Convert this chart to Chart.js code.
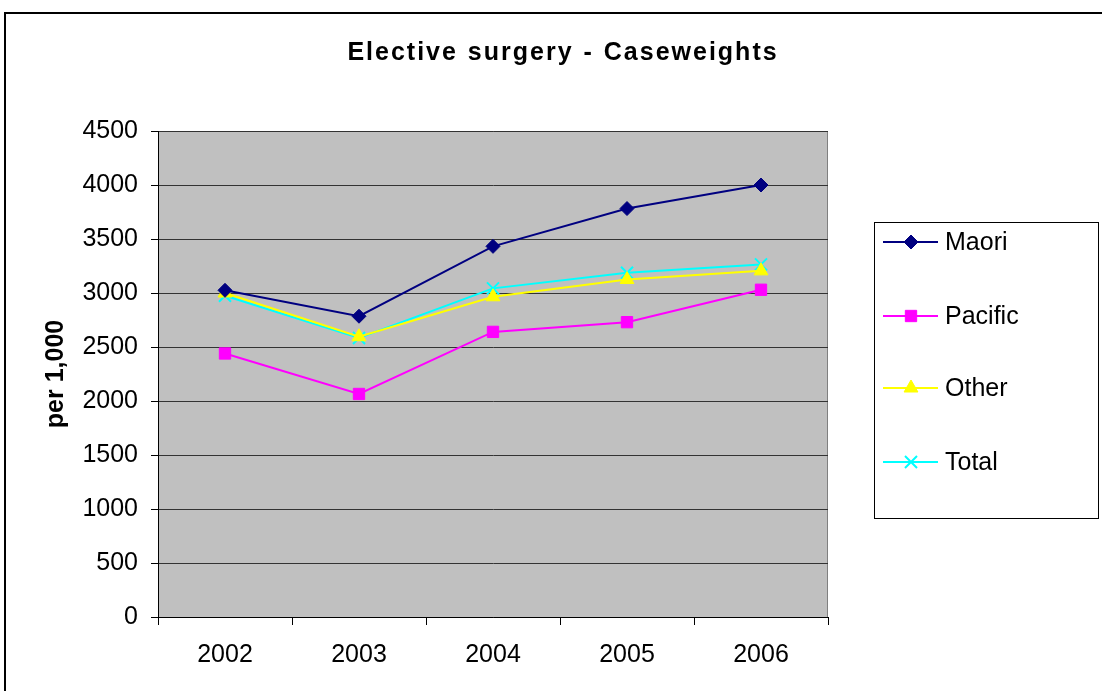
<!DOCTYPE html>
<html>
<head>
<meta charset="utf-8">
<script src="https://cdn.jsdelivr.net/npm/chart.js@4.4.1/dist/chart.umd.min.js"></script>
<style>
  html, body { margin: 0; padding: 0; background: #ffffff; }
  #wrap { position: relative; width: 1102px; height: 691px; }
  canvas { display: block; }
</style>
</head>
<body>
<div id="wrap"><canvas id="chart" width="1102" height="691"></canvas></div>
<script>
// Elective surgery caseweights per 1,000, by ethnic group
const years = ['2002', '2003', '2004', '2005', '2006'];
const maori   = [3025, 2785, 3432, 3782, 4000];
const pacific = [2440, 2065, 2640, 2730, 3030];
const other   = [3000, 2595, 2965, 3125, 3205];
const total   = [2975, 2583, 3043, 3188, 3265];
const yTicks  = [0, 500, 1000, 1500, 2000, 2500, 3000, 3500, 4000, 4500];

const chartTitle = 'Elective surgery - Caseweights';
const yTitle = 'per 1,000';
const FONT = 'Arial, "Liberation Sans", Helvetica, sans-serif';

function series(label, data, color, style, radius, bw) {
  return {
    label, data,
    borderColor: color,
    backgroundColor: color,
    borderWidth: 2,
    pointStyle: style,
    pointRadius: radius,
    pointHoverRadius: radius,
    pointBorderWidth: bw,
    pointBackgroundColor: color,
    pointBorderColor: color,
    tension: 0,
    fill: false
  };
}

const datasets = [
  series('Maori', maori, '#000080', 'rectRot', 7, 1),
  series('Pacific', pacific, '#FF00FF', 'rect', 8, 1),
  series('Other', other, '#FFFF00', 'triangle', 8, 1),
  series('Total', total, '#00FFFF', 'crossRot', 8.5, 2)
];

// Frame, plot background, title and boxed legend
const decorations = {
  id: 'decorations',
  beforeDraw(chart) {
    const { ctx, chartArea: a } = chart;
    ctx.save();
    ctx.fillStyle = '#ffffff';
    ctx.fillRect(0, 0, chart.width, chart.height);
    ctx.fillStyle = '#C0C0C0';
    ctx.fillRect(a.left, a.top, a.right - a.left, a.bottom - a.top);
    ctx.strokeStyle = '#808080';
    ctx.lineWidth = 1;
    ctx.beginPath();
    ctx.moveTo(a.left, a.top + 0.5);
    ctx.lineTo(a.right - 0.5, a.top + 0.5);
    ctx.lineTo(a.right - 0.5, a.bottom);
    ctx.stroke();
    ctx.restore();
  },
  afterDraw(chart) {
    const { ctx } = chart;
    ctx.save();
    // outer frame
    ctx.strokeStyle = '#000000';
    ctx.lineWidth = 2;
    ctx.strokeRect(5, 13, 1110, 700);
    // title
    ctx.fillStyle = '#000000';
    ctx.font = 'bold 25px ' + FONT;
    ctx.letterSpacing = '2px';
    ctx.wordSpacing = '1px';
    ctx.textAlign = 'center';
    ctx.textBaseline = 'middle';
    ctx.fillText(chartTitle, 563, 53);
    ctx.letterSpacing = '0px';
    ctx.wordSpacing = '0px';
    // legend box
    const bx = 874, by = 222, bw = 224, bh = 296;
    ctx.fillStyle = '#ffffff';
    ctx.fillRect(bx, by, bw, bh);
    ctx.strokeStyle = '#000000';
    ctx.lineWidth = 1;
    ctx.strokeRect(bx + 0.5, by + 0.5, bw, bh);
    const rowsY = [242, 316, 388, 462];
    chart.data.datasets.forEach((ds, i) => {
      const y = rowsY[i];
      ctx.strokeStyle = ds.borderColor;
      ctx.lineWidth = 2;
      ctx.beginPath();
      ctx.moveTo(883, y);
      ctx.lineTo(938, y);
      ctx.stroke();
      ctx.fillStyle = ds.pointBackgroundColor;
      ctx.strokeStyle = ds.pointBorderColor;
      ctx.lineWidth = ds.pointBorderWidth;
      Chart.helpers.drawPoint(ctx, {
        pointStyle: ds.pointStyle,
        radius: ds.pointRadius,
        borderWidth: ds.pointBorderWidth,
        rotation: 0
      }, 911, y);
      ctx.fillStyle = '#000000';
      ctx.font = '25px ' + FONT;
      ctx.textAlign = 'left';
      ctx.textBaseline = 'middle';
      ctx.fillText(ds.label, 945, y + 1);
    });
    ctx.restore();
  }
};

new Chart(document.getElementById('chart'), {
  type: 'line',
  data: { labels: years, datasets },
  plugins: [decorations],
  options: {
    responsive: false,
    animation: false,
    events: [],
    layout: { padding: { top: 131, right: 274, bottom: 0, left: 0 } },
    plugins: {
      legend: { display: false },
      title: { display: false },
      tooltip: { enabled: false }
    },
    scales: {
      x: {
        type: 'category',
        offset: true,
        afterFit(scale) { scale.height = 691 - 617; },
        grid: {
          offset: true,
          drawOnChartArea: false,
          drawTicks: true,
          tickLength: 8,
          color: '#000000',
          lineWidth: 1
        },
        border: { display: true, color: '#000000', width: 1 },
        ticks: {
          color: '#000000',
          font: { family: FONT, size: 25 },
          padding: 15,
          maxRotation: 0
        }
      },
      y: {
        min: 0,
        max: 4500,
        afterFit(scale) { scale.width = 158; },
        afterBuildTicks(scale) { scale.ticks = yTicks.map(v => ({ value: v })); },
        grid: {
          color: '#333333',
          lineWidth: 1,
          drawTicks: true,
          tickLength: 7,
          tickColor: '#000000'
        },
        border: { display: true, color: '#000000', width: 1 },
        ticks: {
          color: '#000000',
          font: { family: FONT, size: 25 },
          padding: 13,
          callback: (v) => String(v)
        },
        title: {
          display: true,
          text: yTitle,
          color: '#000000',
          font: { family: FONT, size: 25, weight: 'bold' },
          padding: { top: 41, bottom: 0 }
        }
      }
    }
  }
});
</script>
</body>
</html>
